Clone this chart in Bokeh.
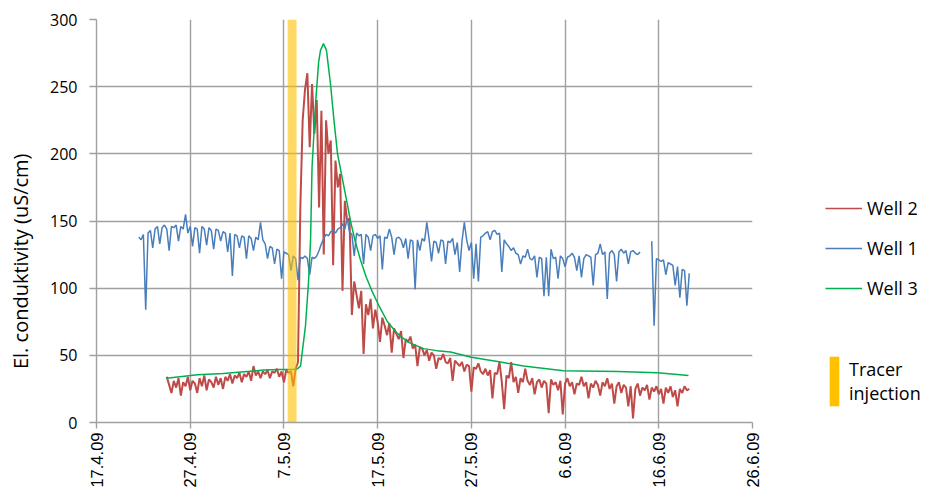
import math
from bokeh.plotting import figure
from bokeh.layouts import row
from bokeh.models import FixedTicker, Legend, LegendItem, Range1d, Label
from bokeh.embed import file_html
from bokeh.resources import INLINE

nan = float("nan")

# x axis: days since 17.4.09, labelled every 10 days
tick_days = [0, 10, 20, 30, 40, 50, 60, 70]
tick_labels = ["17.4.09", "27.4.09", "7.5.09", "17.5.09", "27.5.09", "6.6.09", "16.6.09", "26.6.09"]
y_ticks = [0, 50, 100, 150, 200, 250, 300]
y_title = "El. conduktivity (uS/cm)"

# Well 1 (blue): samples every 0.25 day starting at day 4.5
well1_start = 4.5
well1_step = 0.25
well1 = [
    138, 136, 140, 84,
    141, 143, 130, 144,
    146, 133, 145, 147,
    144, 128, 146, 145,
    147, 135, 146, 144,
    155, 141, 146, 131,
    145, 144, 126, 146,
    144, 132, 145, 143,
    129, 144, 143, 135,
    142, 141, 127, 141,
    109, 140, 139, 130,
    139, 138, 122, 139,
    137, 128, 138, 136,
    149, 136, 133, 122,
    131, 130, 118, 129,
    128, 107, 127, 126,
    125, 113, 124, 122,
    106, 123, 122, 124,
    122, 110, 123, 122,
    124, 128, 133, 137,
    140, 139, 142, 143,
    141, 144, 145, 148,
    144, 152, 142, 140,
    124, 141, 139, 140,
    118, 140, 138, 128,
    139, 140, 137, 139,
    114, 138, 137, 144,
    138, 125, 137, 138,
    136, 130, 137, 122,
    136, 135, 99, 136,
    128, 137, 135, 149,
    136, 120, 135, 134,
    126, 136, 135, 118,
    135, 134, 137, 125,
    134, 112, 135, 149,
    136, 128, 134, 107,
    133, 105, 138, 139,
    141, 142, 136, 142,
    143, 140, 141, 112,
    136, 133, 131, 128,
    130, 126, 125, 118,
    124, 123, 129, 122,
    121, 124, 108, 123,
    122, 94, 123, 94,
    129, 122, 123, 107,
    124, 122, 116, 123,
    124, 126, 123, 113,
    124, 108, 122, 125,
    124, 123, 102, 125,
    126, 133, 125, 127,
    92, 126, 128, 125,
    105, 127, 129, 126,
    128, 118, 127, 128,
    126, 125, 127, nan,
    nan, nan, nan, 135,
    72, 122, 121, 120,
    121, 110, 119, 118,
    117, 102, 116, 93,
    114, 113, 87, 111,
]

# Well 2 (red): samples every 0.25 day starting at day 7.5
well2_start = 7.5
well2_step = 0.25
well2 = [
    34, 28, 22, 31,
    26, 33, 20, 30,
    27, 34, 24, 31,
    29, 22, 33, 27,
    35, 24, 32, 30,
    26, 34, 28, 33,
    25, 34, 31, 36,
    29, 35, 33, 37,
    30, 36, 34, 38,
    31, 42, 35, 38,
    33, 38, 36, 39,
    33, 38, 37, 40,
    34, 38, 30, 39,
    37, 38, 27, 40,
    45, 160, 225, 248,
    260, 205, 252, 215,
    240, 160, 232, 125,
    225, 200, 210, 117,
    195, 175, 185, 98,
    165, 150, 152, 80,
    105, 95, 85, 98,
    51, 88, 80, 92,
    70, 84, 75, 60,
    78, 72, 65, 74,
    52, 70, 66, 62,
    68, 48, 62, 60,
    64, 55, 58, 42,
    56, 55, 50, 54,
    46, 52, 50, 40,
    48, 47, 51, 45,
    44, 48, 31, 46,
    44, 42, 45, 38,
    43, 42, 23, 41,
    40, 44, 38, 36,
    40, 35, 39, 18,
    37, 36, 45, 30,
    10, 35, 33, 45,
    30, 34, 22, 33,
    30, 40, 31, 28,
    33, 21, 30, 32,
    26, 31, 29, 7,
    32, 28, 30, 24,
    31, 6, 29, 33,
    27, 30, 21, 29,
    28, 34, 27, 30,
    18, 29, 26, 31,
    28, 20, 30, 27,
    33, 25, 29, 14,
    27, 30, 22, 28,
    26, 12, 27, 3,
    25, 29, 20, 26,
    24, 28, 17, 26,
    23, 27, 21, 25,
    14, 26, 22, 27,
    19, 24, 12, 25,
    22, 27, 24, 25,
]

# Well 3 (green): smooth curve, read at irregular days
well3_days = [7.47, 10.78, 13.5, 16.11, 17.82, 19.5, 21.02, 21.45, 21.77, 22.09, 22.3,
              22.62, 22.84, 23.0, 23.2, 23.4, 23.7, 23.9, 24.22, 24.54, 24.97, 25.34,
              25.72, 26.25, 26.78, 27.1, 27.6, 28.17, 28.8, 29.45, 30.2, 31.05, 32.0,
              33.19, 34.9, 36.3, 37.78, 40.0, 43.11, 45.57, 49.83, 55.6, 59.87, 63.17]
well3 = [33, 35.5, 36.5, 38, 39, 39.5, 39.5, 40, 42, 60, 72,
         104, 135, 190, 215, 240, 268, 277, 282, 277, 252, 225,
         200, 181, 162, 150, 135, 121, 108, 97, 86, 75, 67,
         60, 55, 53.5, 52.5, 48.5, 45, 42, 38.5, 38, 37, 35]

# Tracer injection period (days)
tracer_start = 20.4
tracer_end = 21.35

series_labels = ["Well 2", "Well 1", "Well 3"]
tracer_label = "Tracer\ninjection"
col_w1, col_w2, col_w3, col_tr = "#4A7EBB", "#BE4B48", "#00B050", "#FFC000"

well1_x = [well1_start + well1_step * i for i in range(len(well1))]
well2_x = [well2_start + well2_step * i for i in range(len(well2))]

H = 490
TOP, BOTTOM = 19, 66

# y-axis title panel
p0 = figure(width=40, height=H, output_backend="svg", toolbar_location=None,
            x_axis_location=None, y_axis_location=None,
            x_range=Range1d(0, 1), y_range=Range1d(0, 1),
            min_border_left=0, min_border_right=0, min_border_top=TOP, min_border_bottom=BOTTOM)
p0.outline_line_color = None
p0.grid.visible = False
p0.add_layout(Label(x=0.5, y=0.4, text=y_title, angle=math.pi / 2,
                    text_align="center", text_baseline="middle",
                    text_font="Open Sans", text_font_size="20px", text_color="black"))

p = figure(width=720, height=H, output_backend="svg", toolbar_location=None,
           x_range=Range1d(tick_days[0], tick_days[-1]),
           y_range=Range1d(y_ticks[0], y_ticks[-1]),
           min_border_left=56, min_border_right=8, min_border_top=TOP, min_border_bottom=BOTTOM)
p.outline_line_color = None

grid_col = "#A0A0A0"
p.xgrid.grid_line_color = grid_col
p.ygrid.grid_line_color = grid_col
p.xgrid.grid_line_width = 1.4
p.ygrid.grid_line_width = 1.4

p.xaxis.ticker = FixedTicker(ticks=tick_days)
p.xaxis.major_label_overrides = {d: l for d, l in zip(tick_days, tick_labels)}
p.xaxis.major_label_orientation = math.pi / 2
p.xaxis.major_label_text_font = "Liberation Sans"
p.xaxis.major_label_text_font_size = "16.5px"
p.xaxis.major_label_standoff = 4
p.xaxis.major_tick_out = 6
p.xaxis.major_tick_in = 0
p.xaxis.minor_tick_line_color = None

p.yaxis.ticker = FixedTicker(ticks=y_ticks)
p.yaxis.major_label_text_font = "Open Sans"
p.yaxis.major_label_text_font_size = "16px"
p.yaxis.major_label_standoff = 12
p.yaxis.major_tick_out = 7
p.yaxis.major_tick_in = 0
p.yaxis.minor_tick_line_color = None

for ax in (p.xaxis, p.yaxis):
    ax.axis_line_color = grid_col
    ax.axis_line_width = 1.4
    ax.major_tick_line_color = grid_col
    ax.major_tick_line_width = 1.4
    ax.major_label_text_color = "black"

r2 = p.line(well2_x, well2, line_color=col_w2, line_width=2)
r1 = p.line(well1_x, well1, line_color=col_w1, line_width=1.5)
r3 = p.line(well3_days, well3, line_color=col_w3, line_width=1.5)

p.quad(left=[tracer_start], right=[tracer_end], bottom=[y_ticks[0]], top=[y_ticks[-1]],
       fill_color=col_tr, fill_alpha=0.6, line_color=None)

# legend panel (renderers hold no visible data; they only style the legend glyphs)
p2 = figure(width=161, height=H, output_backend="svg", toolbar_location=None,
            x_axis_location=None, y_axis_location=None,
            x_range=Range1d(0, 1), y_range=Range1d(0, 1), min_border=0)
p2.outline_line_color = None
p2.grid.visible = False

d2 = p2.line([nan], [nan], line_color=col_w2, line_width=1.5)
d1 = p2.line([nan], [nan], line_color=col_w1, line_width=1.5)
d3 = p2.line([nan], [nan], line_color=col_w3, line_width=1.5)
dq = p2.quad(left=[nan], right=[nan], bottom=[nan], top=[nan], fill_color=col_tr,
             fill_alpha=1.0, line_color=None)

leg1 = Legend(items=[LegendItem(label=series_labels[0], renderers=[d2]),
                     LegendItem(label=series_labels[1], renderers=[d1]),
                     LegendItem(label=series_labels[2], renderers=[d3])],
              location=(65, 122), orientation="vertical",
              glyph_width=37, glyph_height=20, label_standoff=5, spacing=16,
              padding=0, margin=0, border_line_color=None, background_fill_alpha=0,
              label_text_font="Open Sans", label_text_font_size="18px",
              label_text_color="black")
p2.add_layout(leg1)

leg2 = Legend(items=[LegendItem(label=tracer_label, renderers=[dq])],
              location=(68, 10), orientation="vertical",
              glyph_width=12, glyph_height=62, label_standoff=9,
              padding=0, margin=0, border_line_color=None, background_fill_alpha=0,
              label_text_font="Open Sans", label_text_font_size="18px",
              label_text_color="black", label_text_line_height=1.45)
p2.add_layout(leg2)

layout = row(p0, p, p2)
open("out.html", "w").write(file_html(layout, INLINE))
